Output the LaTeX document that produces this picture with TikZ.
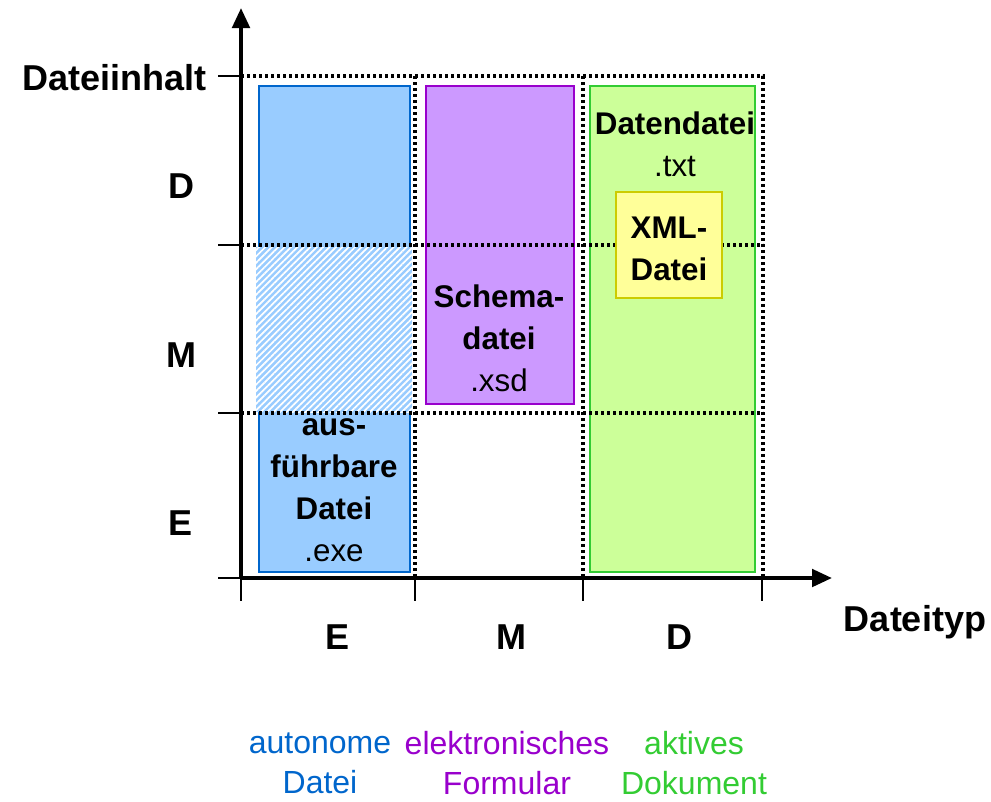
\documentclass[tikz,border=0pt]{standalone}
\usepackage{fontspec}
\setmainfont{Liberation Sans}
\usetikzlibrary{arrows.meta,patterns.meta}
\definecolor{eblue}{HTML}{0066CC}
\definecolor{eblueF}{HTML}{99CCFF}
\definecolor{mpurp}{HTML}{9900CC}
\definecolor{mpurpF}{HTML}{CC99FF}
\definecolor{dgreen}{HTML}{33CC33}
\definecolor{dgreenF}{HTML}{CCFF99}
\definecolor{xyel}{HTML}{CCCC00}
\definecolor{xyelF}{HTML}{FFFF99}
\tikzset{
  axis/.style={line width=3pt,-{Triangle[length=15pt,width=13pt]}},
  tick/.style={line width=1.5pt},
  grid/.style={line width=2.4pt,dash pattern=on 2.2pt off 2.3pt},
  box/.style={line width=1.5pt},
  axlab/.style={font=\fontsize{27}{32}\selectfont\bfseries,inner sep=0pt},
  boxtxt/.style={align=center,inner sep=0pt,font=\fontsize{23.5}{31.5}\selectfont},
  bottxt/.style={align=center,inner sep=0pt,font=\fontsize{24}{30}\selectfont},
}
\begin{document}
\begin{tikzpicture}[x=0.75pt,y=-0.75pt]
\useasboundingbox (0,0) rectangle (991,801);
% boxes
\draw[box,draw=eblue,fill=eblueF] (259,86) rectangle (410,572);
\draw[box,draw=mpurp,fill=mpurpF] (426,86) rectangle (574,404);
\draw[box,draw=dgreen,fill=dgreenF] (590,86) rectangle (755,572);
% hatched band
\fill[eblueF] (256,247) rectangle (412,412);
\fill[pattern={Lines[angle=45,distance=3.4pt,line width=1.3pt]},pattern color=white] (256,247) rectangle (412,412);
% dotted grid
\draw[grid] (241,76) -- (763,76) -- (763,578);
\draw[grid] (241,245) -- (763,245);
\draw[grid] (241,413) -- (763,413);
\draw[grid] (415,76) -- (415,578);
\draw[grid] (583,76) -- (583,578);
% yellow box
\draw[box,draw=xyel,fill=xyelF] (616,192) rectangle (722,298);
% ticks
\foreach \yy in {76,245,413,578} \draw[tick] (218,\yy) -- (241,\yy);
\foreach \xx in {241,415,583,762} \draw[tick] (\xx,578) -- (\xx,601);
% axes
\coordinate (o) at (241,578);
\coordinate (ytip) at (241,8);
\coordinate (xtip) at (832,578);
\draw[axis] (o) -- (ytip);
\draw[axis] (o) -- (xtip);
% axis labels
\node[axlab,anchor=east] (yl) at (207,78) {Dateiinhalt};
\node[axlab] (yD) at (181,186) {D};
\node[axlab] (yM) at (181,355) {M};
\node[axlab] (yE) at (181,523) {E};
\node[axlab] (xE) at (338,637) {E};
\node[axlab] (xM) at (511,637) {M};
\node[axlab] (xD) at (679,637) {D};
\node[axlab] (xl) at (915,622) {Dateityp};
% box texts
\node[boxtxt] (exe) at (334,490) {\textbf{aus-}\\\textbf{führbare}\\\textbf{Datei}\\.exe};
\node[boxtxt] (xsd) at (499,338) {\textbf{Schema-}\\\textbf{datei}\\.xsd};
\node[boxtxt] (txt) at (675,144) {\textbf{Datendatei}\\.txt};
\node[boxtxt] (xml) at (669,249) {\textbf{XML-}\\\textbf{Datei}};
% bottom texts
\node[bottxt,text=eblue] (b1) at (320,763) {autonome\\Datei};
\node[bottxt,text=mpurp] (b2) at (507,763) {elektronisches\\Formular};
\node[bottxt,text=dgreen] (b3) at (694,763) {aktives\\Dokument};
\end{tikzpicture}
\end{document}
